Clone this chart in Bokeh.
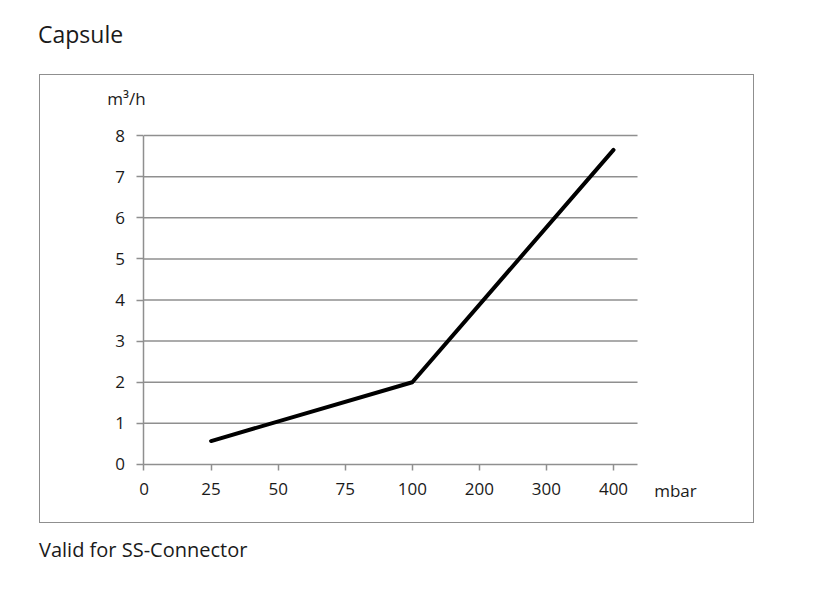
from bokeh.plotting import figure
from bokeh.models import Range1d, FixedTicker, Label, Div, LinearAxis
from bokeh.layouts import column
from bokeh.embed import file_html
from bokeh.resources import INLINE

title_text = "Capsule"
footer_text = "Valid for SS-Connector"
categories = ["0", "25", "50", "75", "100", "200", "300", "400"]
pressure = ["25", "100", "400"]
flow = [0.57, 2.0, 7.65]
y_ticks = [0, 1, 2, 3, 4, 5, 6, 7, 8]
y_unit = "m³/h"
x_unit = "mbar"

FONT = "Open Sans"
GRAY = "#8f8f8f"
TXT = "#1a1a1a"
X_AXIS_END = 7.358

xs = [categories.index(c) for c in pressure]

p = figure(width=715, height=449, output_backend="svg", toolbar_location=None,
           x_range=Range1d(-1.543, 9.117), y_range=Range1d(-1.459, 9.459),
           x_axis_location=None, y_axis_location=None,
           min_border=0)
p.outline_line_color = None
p.background_fill_color = "white"
p.border_fill_color = "white"
p.grid.visible = False
p.styles = {"border": "1.5px solid #8f8f8f"}

# horizontal grid lines
grid_y = y_ticks[1:]
p.segment(x0=[0] * len(grid_y), y0=grid_y, x1=[X_AXIS_END] * len(grid_y), y1=grid_y,
          line_color=GRAY, line_width=1.5)

xaxis = LinearAxis(fixed_location=0, bounds=(0, X_AXIS_END),
                   ticker=FixedTicker(ticks=list(range(len(categories)))),
                   major_label_overrides={i: c for i, c in enumerate(categories)})
yaxis = LinearAxis(fixed_location=0, bounds=(0, 8), ticker=FixedTicker(ticks=y_ticks))
for ax in (xaxis, yaxis):
    ax.axis_line_color = GRAY
    ax.axis_line_width = 1.5
    ax.major_tick_line_color = GRAY
    ax.major_tick_line_width = 1.5
    ax.major_tick_in = 0
    ax.minor_tick_line_color = None
    ax.major_label_text_font = FONT
    ax.major_label_text_font_size = "17px"
    ax.major_label_text_color = TXT
xaxis.major_tick_out = 6
yaxis.major_tick_out = 7
xaxis.major_label_standoff = 13
yaxis.major_label_standoff = 12
p.add_layout(xaxis, "below")
p.add_layout(yaxis, "left")

p.line(xs, flow, line_color="black", line_width=4, line_cap="round", line_join="round")

p.add_layout(Label(x=86, y=426, x_units="screen", y_units="screen", text=y_unit,
                   text_font=FONT, text_font_size="17px", text_color=TXT,
                   text_align="center", text_baseline="middle"))
p.add_layout(Label(x=635, y=34, x_units="screen", y_units="screen", text=x_unit,
                   text_font=FONT, text_font_size="17px", text_color=TXT,
                   text_align="center", text_baseline="middle"))

title = Div(text=title_text, width=300, height=74, margin=(0, 0, 0, 38),
            styles={"font-family": FONT, "font-size": "23px", "color": TXT,
                    "padding-top": "21px", "line-height": "1.2"})
footer = Div(text=footer_text, width=400, height=40, margin=(0, 0, 0, 39),
             styles={"font-family": FONT, "font-size": "20px", "color": TXT,
                     "padding-top": "15px", "line-height": "1.2"})
p.margin = (0, 0, 0, 39)

layout = column(title, p, footer, spacing=0)
open("out.html", "w").write(file_html(layout, INLINE))
